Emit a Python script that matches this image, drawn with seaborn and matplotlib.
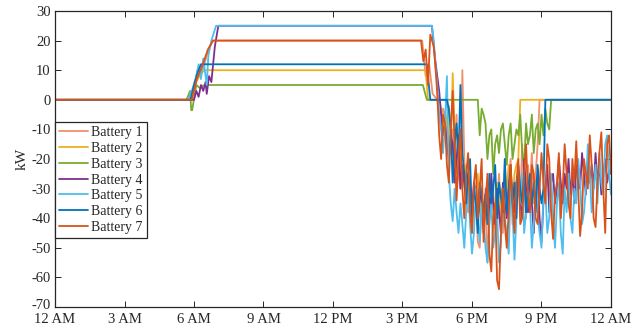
import numpy as np
import pandas as pd
import matplotlib
matplotlib.use("Agg")
import matplotlib.pyplot as plt
import matplotlib.transforms as mtransforms
import seaborn as sns

# ---------------- data (hours of day, kW) ----------------
labels = ["Battery 1", "Battery 2", "Battery 3", "Battery 4",
          "Battery 5", "Battery 6", "Battery 7"]
colors = ["#F0906C", "#EDB120", "#77AC30", "#7E2F8E",
          "#4DBEEE", "#0072BD", "#D95319"]

x_ticks = [0, 3, 6, 9, 12, 15, 18, 21, 24]
x_labels = ["12 AM", "3 AM", "6 AM", "9 AM", "12 PM", "3 PM", "6 PM", "9 PM", "12 AM"]
y_ticks = [-70, -60, -50, -40, -30, -20, -10, 0, 10, 20, 30]

# morning ramp / plateau breakpoints per battery
b1_t = [0, 5.85, 6.05, 6.15, 6.35, 6.55, 6.8, 15.85, 16.0, 16.15, 16.3]
b1_v = [0, 0, 6, 10, 9, 15, 20, 20, 8, 12, 2]
b2_t = [0, 5.85, 6.1, 6.3, 6.45, 16.0, 16.1]
b2_v = [0, 0, 6, 9, 10, 10, 0]
b3_t = [0, 5.68, 5.83, 5.88, 5.92, 6.1, 6.25, 6.45, 15.88, 16.05]
b3_v = [0, 0, 3, -3.5, -3.5, 5, 4, 5, 5, 0]
b4_t = [0, 5.9, 6.0, 6.1, 6.2, 6.3, 6.4, 6.5, 6.55, 6.65, 6.75, 6.9, 7.05, 16.27, 16.35, 16.42]
b4_v = [0, 0, 0, 3, 1, 5, 3, 6, 2, 8, 6, 18, 25, 25, 18, 13]
b5_t = [0, 5.75, 5.95, 6.1, 6.2, 6.3, 6.4, 6.55, 6.62, 6.75, 6.95, 16.27, 16.35, 16.42]
b5_v = [0, 0, 4, 8, 12, 7, 14, 5, 15, 20, 25, 25, 20, 12]
b6_t = [0, 5.85, 6.0, 6.15, 6.3, 16.05, 16.2]
b6_v = [0, 0, 5, 9, 12, 12, 0]
b7_t = [0, 5.9, 6.12, 6.38, 6.6, 6.82, 15.8, 15.9, 16.0, 16.1, 16.2, 16.35, 16.45]
b7_v = [0, 0, 7, 12, 17, 20, 20, 13, 17, 5, 22, 18, 8]

# evening values every 5 minutes from 4:30 PM to midnight (91 samples)
eve_start = 16.5
eve_step = 5 / 60
b1_eve = ([0, -5, -10, -3, -5, -12, -20, -15, -10, -18, -5, -25,
           -30, 10, -20, -35, -38, -28, -45, -30, -32, -48, -50, -35,
           -42, -30, -55, -40, -38, -30, -45, -35, -25, -38, -45, -20,
           -38, -28, -20, -42, -35, -30, -25, -35, -15, -28, -40, -22,
           -30, -18, -35, -25, -15] + [0] * 38)
b2_eve = ([0, 0, -3, -8, -12, -6, -2, -18, 9, -10, -25, -20,
           -15, -30, -25, -22, -35, -28, -40, -32, -30, -25, -38, -30,
           -42, -35, -28, -38, -30, -42, -35, -28, -40, -30, -35, -25,
           -30, -22, -28, -35, -25, -22, -20] + [0] * 48)
b3_eve = ([0] * 22 +
          [-12, -3, -5, -8, -20, -12, -10, -25, -15, -12, -18, -10, -8, -15,
           -22, -12, -8, -20, -15, -10, -12, -5, -18, -22, -8, -15,
           -12, -5, -18, -10, -8, -15, -5, -12, -3, -8, -10] + [0] * 32)
b4_eve = [8, 3, -5, -12, -8, -15, -20, -12, -15, -28, -20, -12,
          -30, -22, -28, -35, -25, -30, -38, -28, -32, -42, -30, -35,
          -45, -32, -28, -40, -25, -35, -42, -30, -38, -45, -28, -35,
          -40, -30, -22, -35, -38, -28, -25, -35, -40, -20, -30, -38,
          -28, -35, -45, -30, -25, -40, -48, -35, -30, -22, -38, -28,
          -25, -35, -30, -20, -28, -35, -25, -30, -20, -32, -25, -35,
          -22, -28, -30, -18, -25, -32, -20, -28, -22, -30, -18, -28,
          -22, -32, -25, -20, -28, -24, -25]
b5_eve = [5, -5, -10, -18, -8, 8, -25, -35, -41, -30, -38, -45,
          -35, -42, -50, -38, -30, -42, -52, -45, -30, -40, -48, -35,
          -40, -50, -55, -42, -35, -50, -45, -38, -55, -48, -30, -40,
          -45, -52, -30, -38, -54, -40, -28, -35, -25, -45, -38, -30,
          -35, -50, -42, -28, -38, -45, -50, -32, -30, -45, -40, -25,
          -40, -50, -35, -28, -45, -52, -30, -38, -25, -40, -45, -30,
          -35, -20, -28, -42, -38, -30, -15, -25, -38, -30, -22, -35,
          -18, -28, -32, -15, -12, -25, -32]
b6_eve = ([0, 0, 0, 0, 0, 0, -3, -10, -28, -15, -8, -20,
           5, -18, -25, -35, -25, -20, -40, -30, -35, -45, -28, -32,
           -38, -32, -42, -25, -35, -30, -22, -40, -28, -33, -38, -20,
           -38, -30, -25, -35, -28, -40, -22, -30, -35, -25, -38, -30,
           -25, -35, -28, -38, -22, -30, -35, -30] + [0] * 35)
b7_eve = [2, -12, -20, -5, -8, -22, -28, -10, 3, -15, -34, -20,
          -10, -30, -40, -25, -18, -38, -45, -28, -22, -40, -30, -20,
          -48, -35, -25, -52, -58, -40, -35, -61, -64, -45, -30, -42,
          -50, -38, -22, -35, -45, -28, -20, -42, -40, -25, -15, -32,
          -38, -22, -25, -40, -42, -30, -18, -28, -35, -15, -20, -38,
          -47, -32, -28, -18, -40, -30, -15, -25, -35, -40, -20, -28,
          -14, -30, -46, -38, -20, -25, -30, -12, -22, -40, -43, -28,
          -18, -11, -30, -45, -15, -12, -25]

series = [(b1_t, b1_v, b1_eve), (b2_t, b2_v, b2_eve), (b3_t, b3_v, b3_eve),
          (b4_t, b4_v, b4_eve), (b5_t, b5_v, b5_eve), (b6_t, b6_v, b6_eve),
          (b7_t, b7_v, b7_eve)]

frames = []
for lab, (tt, vv, ev) in zip(labels, series):
    t_eve = eve_start + np.arange(len(ev)) * eve_step
    t = np.concatenate([tt, t_eve])
    v = np.concatenate([vv, ev])
    frames.append(pd.DataFrame({"t": t, "kW": v, "Battery": lab}))
df = pd.concat(frames, ignore_index=True)

# ---------------- plot ----------------
sns.set_theme(style="white")
plt.rcParams["font.family"] = ["Liberation Serif", "DejaVu Serif"]
plt.rcParams["axes.unicode_minus"] = False

fig = plt.figure(figsize=(6.39, 3.28), dpi=100)
ax = fig.add_axes([55 / 639, 21 / 328, 556 / 639, 296 / 328])

sns.lineplot(data=df, x="t", y="kW", hue="Battery", hue_order=labels,
             palette=colors, estimator=None, sort=False,
             linewidth=1.3, ax=ax)

ax.set_xlim(0, 24)
ax.set_ylim(-70, 30)
ax.set_xticks(x_ticks)
ax.set_xticklabels(x_labels)
ax.set_yticks(y_ticks)
ax.set_yticklabels([str(v) for v in y_ticks])
ax.set_xlabel("")
ax.set_ylabel("kW", fontsize=11, color="#262626", labelpad=2)

for sp in ax.spines.values():
    sp.set_visible(True)
    sp.set_color("#262626")
    sp.set_linewidth(0.9)
ax.tick_params(axis="both", direction="in", length=4, width=0.7, colors="#262626",
               labelsize=10.5, top=True, right=True, bottom=True, left=True, pad=3)
ax.tick_params(axis="x", pad=4)
for lbl in ax.get_xticklabels() + ax.get_yticklabels():
    lbl.set_color("#262626")
# nudge the lowest y label up a little so it does not collide with "12 AM"
low = ax.get_yticklabels()[0]
low.set_transform(low.get_transform() +
                  mtransforms.ScaledTranslation(0, 2.5 / 72, fig.dpi_scale_trans))
ax.grid(False)

leg = ax.legend(loc="upper left", bbox_to_anchor=(0.0, 0.625), borderaxespad=0,
                frameon=True, fancybox=False, framealpha=1, edgecolor="#262626",
                fontsize=10, handlelength=2.1, handletextpad=0.2,
                labelspacing=0.2, borderpad=0.3)
leg.get_frame().set_linewidth(0.9)
for txt in leg.get_texts():
    txt.set_color("#262626")

fig.savefig("out.png", dpi=100, facecolor="white")
